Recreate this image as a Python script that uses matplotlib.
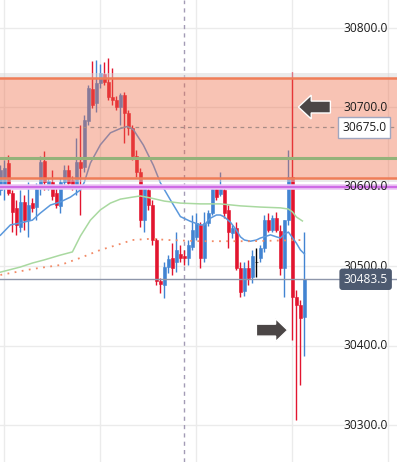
import numpy as np
import matplotlib
matplotlib.use("Agg")
from matplotlib import pyplot as plt
from matplotlib.patches import FancyArrow
import matplotlib.transforms as mtransforms

# candles (one bar per 4 px)
opens = [30596, 30600, 30630, 30592, 30573.5, 30549.5, 30581, 30558, 30579.5, 30574.5,
         30598.5, 30632.5, 30600, 30606, 30592, 30576, 30606, 30621, 30608.5, 30600,
         30631, 30625, 30683, 30723, 30705.5, 30730.5, 30742, 30732, 30713, 30709.5,
         30700.5, 30715.5, 30693, 30674, 30639, 30618.5, 30558, 30596, 30577, 30533,
         30481.5, 30476.5, 30499, 30510.5, 30505.5, 30515.5, 30513, 30510.5, 30524, 30537,
         30552, 30510.5, 30554.5, 30567, 30597, 30591, 30596, 30571, 30542, 30548,
         30497.5, 30469, 30497.5, 30486.5, 30505.5, 30510.5, 30523, 30558, 30545.5, 30560.5,
         30544.5, 30497.5, 30558, 30612.5, 30461, 30451, 30436]
highs = [30627.5, 30634, 30640, 30596, 30583.5, 30596, 30589.5, 30606, 30586, 30605,
         30639, 30645, 30611, 30621, 30598.5, 30611, 30627.5, 30627.5, 30613.5, 30661.5,
         30678, 30690.5, 30728, 30758.5, 30759.5, 30754.5, 30757, 30762, 30749.5, 30714.5,
         30718, 30719.5, 30696.5, 30678, 30646.5, 30623.5, 30602.5, 30601, 30583.5, 30535.5,
         30485, 30505.5, 30514, 30529, 30543, 30526.5, 30520.5, 30533, 30564.5, 30567,
         30555.5, 30568.5, 30571, 30601, 30602.5, 30618.5, 30598.5, 30577, 30552, 30555.5,
         30505.5, 30505.5, 30508, 30520.5, 30523, 30526.5, 30564.5, 30567, 30564.5, 30568.5,
         30552, 30558, 30646.5, 30744.5, 30470, 30457.5, 30543]
lows = [30589.5, 30583.5, 30589.5, 30543, 30539.5, 30543, 30545.5, 30537, 30568.5, 30558,
        30589.5, 30596, 30596, 30583.5, 30573.5, 30567, 30600, 30601, 30596, 30589.5,
        30564.5, 30618.5, 30678, 30699, 30694, 30724.5, 30728, 30709.5, 30703, 30696.5,
        30678, 30655, 30665, 30634, 30612.5, 30549.5, 30543, 30571, 30526.5, 30476.5,
        30466.5, 30460, 30491.5, 30489, 30492.5, 30505.5, 30501.5, 30501.5, 30520.5, 30533,
        30497.5, 30505.5, 30550.5, 30564.5, 30583.5, 30588.5, 30560.5, 30523, 30535.5, 30495,
        30461, 30462.5, 30476.5, 30479, 30486.5, 30505.5, 30518, 30543, 30543, 30543,
        30489, 30461, 30552, 30407, 30306.5, 30350.5, 30387]
closes = [30621, 30623.5, 30592, 30568.5, 30552, 30581, 30558, 30577, 30573.5, 30597,
          30631, 30606, 30607.5, 30588.5, 30577, 30606, 30621, 30605, 30600, 30631,
          30623.5, 30684, 30724.5, 30703, 30730.5, 30743.5, 30732, 30713, 30709.5, 30700.5,
          30715.5, 30693, 30674, 30639, 30618.5, 30558, 30598.5, 30577, 30533, 30481.5,
          30477.5, 30499, 30509, 30497.5, 30520.5, 30510.5, 30510.5, 30526.5, 30545.5, 30554.5,
          30510.5, 30554.5, 30567, 30597, 30587, 30597, 30567, 30543, 30548, 30497.5,
          30467.5, 30497.5, 30485, 30513, 30505.5, 30523, 30558, 30545.5, 30560.5, 30545.5,
          30497.5, 30558, 30612.5, 30461, 30451, 30434.5, 30483.5]

# moving averages (bar position, price)
ma_fast_x = [0, 2.5, 5, 8, 10, 12.5, 15, 17.5, 20, 21, 22.5, 25, 27.5, 30, 31.75, 33.25,
             35.75, 38.25, 40, 42.5, 45, 47.5, 50, 51, 52.5, 54, 55, 56, 57.5, 59, 60, 61,
             62.5, 64, 65, 66, 67.5, 69, 70, 71, 72, 72.5, 74, 75, 76]
ma_fast = [30539, 30552, 30554.5, 30558, 30567, 30577, 30581, 30587, 30596, 30606, 30630,
           30653, 30668, 30673.5, 30676, 30672, 30652.5, 30627, 30605, 30583.5, 30562.5,
           30556.5, 30552, 30552, 30560.5, 30564.5, 30564.5, 30562, 30555.5, 30545.5, 30537,
           30533, 30531.5, 30533, 30535.5, 30537, 30539.5, 30537, 30535.5, 30540.5, 30543,
           30539.5, 30529, 30520.5, 30515.5]
ma_mid_x = [0, 5, 8, 11, 15, 18, 20, 22.5, 25, 27.5, 30, 33, 35, 37.5, 41, 45, 50, 55,
            60, 65, 70, 72, 73, 74, 75.5]
ma_mid = [30492.5, 30499, 30504, 30508, 30514, 30518, 30538, 30558, 30571, 30579.5,
          30584.5, 30587, 30588.5, 30586, 30582, 30579.5, 30578.5, 30578.5, 30576, 30574.5,
          30573.5, 30572, 30568.5, 30562, 30557]
ma_slow_x = [0, 8, 15, 20, 25, 29, 33, 37.5, 42, 50, 62.5, 75.5]
ma_slow = [30489, 30496.5, 30501.5, 30510.5, 30520.5, 30526.5, 30533, 30534.5, 30533,
           30531.5, 30531.5, 30533]

zone_top = 30737.0
zone_bottom = 30611.5
level_green = 30636.0
level_dashed = 30675.0
level_purple = 30600.0
last_price = 30483.5
price_ticks = [30300, 30400, 30500, 30600, 30700, 30800]
grid_bars = [1, 25, 49, 73, 97]
cursor_bar = 46

red = '#e2152f'
blue = '#4284d2'

fig = plt.figure(figsize=(3.97, 4.62), dpi=100)
ax = fig.add_axes([0, 0, 1, 1])
ax.set_xlim(-0.1, 99.15)
ax.set_ylim(30253.4, 30835.3)
ax.axis('off')

# grid
for p in price_ticks:
    ax.axhline(p, color='#ebebeb', lw=1, zorder=0)
for b in grid_bars:
    ax.axvline(b, color='#ebebeb', lw=1, zorder=0)
ax.axvline(cursor_bar, color='#a39bb5', lw=1, ls=(0, (3, 3)), zorder=1)

# candles
x = np.arange(len(opens))
o = np.array(opens)
c = np.array(closes)
colors = np.where(c > o, blue, np.where(c < o, red, 'black'))
ax.vlines(x, lows, highs, colors=colors, lw=1.0, zorder=3)
ax.bar(x, c - o, bottom=o, width=0.82, color=colors, edgecolor=colors, lw=0.4, zorder=3)

# moving averages
ax.plot(ma_fast_x, ma_fast, color='#5b98dc', lw=1.1, zorder=4)
ax.plot(ma_mid_x, ma_mid, color='#a9d9a0', lw=1.1, zorder=4)
ax.plot(ma_slow_x, ma_slow, color='#f28a66', lw=1.3, ls=(0, (1, 3)), zorder=4)

# zone
ax.axhspan(zone_bottom, zone_top, color='#ee6a45', alpha=0.4, lw=0, zorder=5)
ax.axhspan(zone_top, zone_top + 6.5, color='#d9d9d9', alpha=0.5, lw=0, zorder=5)
ax.axhspan(zone_bottom - 6, zone_bottom, color='#d9d9d9', alpha=0.5, lw=0, zorder=5)
ax.axhline(zone_top, color='#ef7d58', lw=1.8, zorder=6)
ax.axhline(zone_bottom, color='#ef7d58', lw=1.8, zorder=6)
ax.axhline(level_green, color='#94b27a', lw=2.2, zorder=6)
ax.axhline(level_dashed, color='#a88c86', lw=0.9, ls=(0, (3, 3)), zorder=6)
ax.axhline(level_purple, color='#ecc4f4', lw=4, zorder=6)
ax.axhline(level_purple, color='#cf6be6', lw=1.6, zorder=6)
ax.axhline(last_price, color='#8e96aa', lw=1, zorder=6)

# arrows
ax.add_patch(FancyArrow(82.5, 30700.5, -8, 0, width=15, head_width=30, head_length=3.2,
                        length_includes_head=True, fc='#4b4646', ec='white', lw=1, zorder=7))
ax.add_patch(FancyArrow(64.0, 30419.5, 7.8, 0, width=15, head_width=29, head_length=3.0,
                        length_includes_head=True, fc='#4b4646', ec='white', lw=1, zorder=7))

# price scale
trans = mtransforms.blended_transform_factory(ax.transAxes, ax.transData)
font = ['Open Sans', 'DejaVu Sans']
for p in price_ticks:
    ax.text(0.921, p, f"{p:.1f}", transform=trans, ha='center', va='center',
            fontsize=8.6, color='#1c1c1c', family=font, zorder=8)
ax.text(0.917, level_dashed, f"{level_dashed:.1f}", transform=trans, ha='center',
        va='center', fontsize=8.6, color='#1c1c1c', family=font, zorder=9,
        bbox=dict(boxstyle='square,pad=0.35', fc='white', ec='#a0a6bf', lw=1))
ax.text(0.921, last_price, f"{last_price:.1f}", transform=trans, ha='center',
        va='center', fontsize=8.6, color='white', family=font, zorder=9,
        bbox=dict(boxstyle='round,pad=0.35,rounding_size=0.25', fc='#4d5a70', ec='none'))

plt.savefig("out.png", dpi=100)
plt.close()
